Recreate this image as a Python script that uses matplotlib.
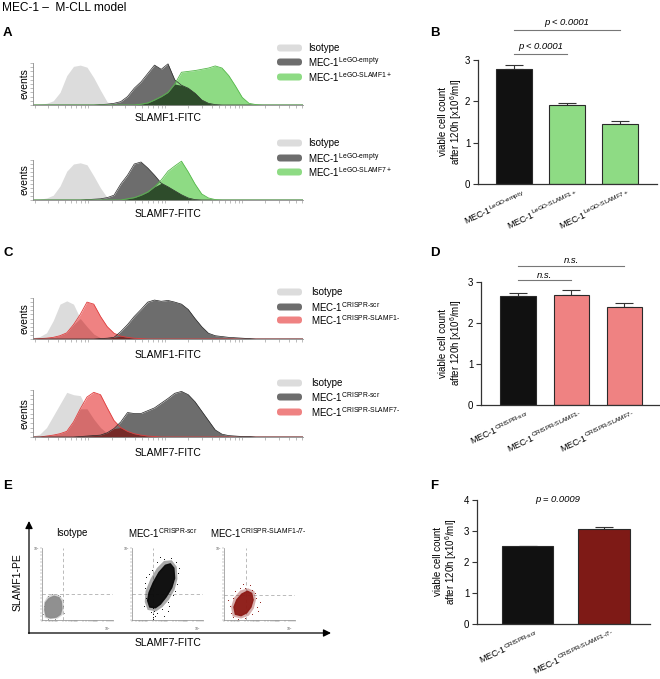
import numpy as np
import matplotlib
matplotlib.use('Agg')
import matplotlib.pyplot as plt
from matplotlib.patches import FancyBboxPatch, Polygon
from matplotlib.transforms import ScaledTranslation

plt.rcParams['font.family'] = ['Liberation Sans', 'DejaVu Sans']
plt.rcParams['mathtext.fontset'] = 'custom'
plt.rcParams['mathtext.rm'] = 'Liberation Sans'
plt.rcParams['mathtext.it'] = 'Liberation Sans:italic'
plt.rcParams['mathtext.bf'] = 'Liberation Sans:bold'

# ---------------- data ----------------
# histogram bins (fluorescence axis, arbitrary units 0..100)
hist_x = [0, 2.5, 5, 7.5, 10, 12.5, 15, 17.5, 20, 22.5, 25, 27.5, 30, 32.5, 35, 37.5, 40,
          42.5, 45, 47.5, 50, 52.5, 55, 57.5, 60, 62.5, 65, 67.5, 70, 72.5, 75, 77.5, 80,
          82.5, 85, 87.5, 90, 92.5, 95, 97.5, 100]

# A top: SLAMF1-FITC
a1_iso = [0, .02, .04, .10, .30, .70, .92, .95, .90, .65, .35, .07, .01, 0, 0, 0, 0, 0, 0, 0, 0,
          0, 0, 0, 0, 0, 0, 0, 0, 0, 0, 0, 0, 0, 0, 0, 0, 0, 0, 0, 0]
a1_empty = [0, 0, 0, 0, 0, 0, 0, 0, 0, 0, .01, .02, .04, .08, .20, .40, .55, .75, .95, .85, .98,
            .60, .47, .40, .28, .12, .04, .01, 0, 0, 0, 0, 0, 0, 0, 0, 0, 0, 0, 0, 0]
a1_slamf = [0, 0, 0, 0, 0, 0, 0, 0, 0, 0, 0, 0, 0, 0, 0, 0, .02, .05, .12, .20, .30,
            .50, .78, .80, .82, .85, .88, .93, .88, .70, .45, .18, .04, .01, 0, 0, 0, 0, 0, 0, 0]
# A bottom: SLAMF7-FITC
a2_iso = [0, .02, .05, .12, .35, .72, .90, .93, .88, .60, .30, .06, .01, 0, 0, 0, 0, 0, 0, 0, 0,
          0, 0, 0, 0, 0, 0, 0, 0, 0, 0, 0, 0, 0, 0, 0, 0, 0, 0, 0, 0]
a2_empty = [0, 0, 0, 0, 0, 0, 0, 0, .01, .02, .03, .06, .12, .40, .62, .90, .95, .80, .62, .42, .33,
            .23, .13, .05, .01, 0, 0, 0, 0, 0, 0, 0, 0, 0, 0, 0, 0, 0, 0, 0, 0]
a2_slamf = [0, 0, 0, 0, 0, 0, 0, 0, 0, 0, 0, 0, 0, 0, .03, .06, .12, .20, .33, .50, .72,
            .85, .97, .70, .40, .15, .05, .01, 0, 0, 0, 0, 0, 0, 0, 0, 0, 0, 0, 0, 0]
# C top: SLAMF1-FITC
c1_iso = [.03, .06, .15, .45, .85, .93, .85, .50, .30, .12, .03, .01, 0, 0, 0, 0, 0, 0, 0, 0, 0,
          0, 0, 0, 0, 0, 0, 0, 0, 0, 0, 0, 0, 0, 0, 0, 0, 0, 0, 0, 0]
c1_ko = [0, .01, .02, .04, .08, .15, .35, .60, .90, .85, .55, .30, .14, .07, .04, .02, .01, 0, 0, 0, 0,
         0, 0, 0, 0, 0, 0, 0, 0, 0, 0, 0, 0, 0, 0, 0, 0, 0, 0, 0, 0]
c1_scr = [0, 0, 0, 0, 0, 0, 0, 0, 0, 0, .01, .02, .04, .18, .35, .55, .72, .90, .95, .92, .94,
          .90, .85, .72, .50, .30, .14, .08, .06, .04, .03, .02, .01, 0, 0, 0, 0, 0, 0, 0, 0]
# C bottom: SLAMF7-FITC
c2_iso = [.02, .06, .20, .45, .70, .95, .90, .88, .60, .38, .20, .08, .03, .01, 0, 0, 0, 0, 0, 0, 0,
          0, 0, 0, 0, 0, 0, 0, 0, 0, 0, 0, 0, 0, 0, 0, 0, 0, 0, 0, 0]
c2_ko = [0, 0, .02, .04, .07, .12, .32, .60, .85, .95, .90, .62, .35, .20, .12, .07, .04, .02, .01, 0, 0,
         0, 0, 0, 0, 0, 0, 0, 0, 0, 0, 0, 0, 0, 0, 0, 0, 0, 0, 0, 0]
c2_scr = [0, 0, 0, 0, 0, 0, 0, .01, .02, .03, .04, .09, .18, .32, .52, .50, .50, .56, .62, .72, .82,
          .93, .97, .90, .75, .55, .35, .15, .06, .03, .02, .01, .01, 0, 0, 0, 0, 0, 0, 0, 0]

# bar panels
b_labels = ['MEC-1$^{\\mathregular{LeGO‐empty}}$', 'MEC-1$^{\\mathregular{LeGO‐SLAMF1+}}$',
            'MEC-1$^{\\mathregular{LeGO‐SLAMF7+}}$']
b_values = [2.78, 1.90, 1.45]
b_errors = [0.09, 0.07, 0.08]
d_labels = ['MEC-1$^{\\mathregular{CRISPR‐scr}}$', 'MEC-1$^{\\mathregular{CRISPR‐SLAMF1‐}}$',
            'MEC-1$^{\\mathregular{CRISPR‐SLAMF7‐}}$']
d_values = [2.65, 2.69, 2.38]
d_errors = [0.09, 0.12, 0.10]
f_labels = ['MEC-1$^{\\mathregular{CRISPR‐scr}}$', 'MEC-1$^{\\mathregular{CRISPR‐SLAMF1‐/7‐}}$']
f_values = [2.52, 3.06]
f_errors = [0.01, 0.07]

# dot plots (E): dense-core outlines, fuzzy halo outlines and sparse events, axis units 0..100
e_titles = ['Isotype', 'MEC-1$^{\\mathregular{CRISPR‐scr}}$', 'MEC-1$^{\\mathregular{CRISPR‐SLAMF1‐/7‐}}$']
e_core = [
    [(6, 5), (12, 3), (20, 4), (26, 8), (28, 16), (27, 26), (24, 31), (17, 33), (10, 30), (5, 24), (4, 14)],
    [(25, 18), (33, 17), (40, 22), (48, 32), (56, 45), (60, 58), (59, 72), (54, 78), (47, 76),
     (38, 66), (30, 52), (24, 38), (22, 27)],
    [(16, 8), (24, 6), (32, 10), (38, 18), (41, 28), (39, 37), (33, 40), (25, 36), (18, 28), (14, 18)],
]
e_halo = [
    [(4, 3), (12, 1), (22, 2), (29, 7), (31, 17), (30, 28), (25, 34), (16, 36), (8, 33), (3, 25), (2, 12)],
    [(22, 14), (34, 12), (43, 18), (52, 28), (60, 42), (64, 57), (63, 74), (56, 83), (45, 82),
     (35, 72), (26, 57), (19, 40), (18, 25)],
    [(12, 5), (24, 2), (35, 6), (42, 16), (45, 28), (43, 40), (34, 44), (23, 41), (14, 31), (10, 18)],
]
e_sparse = [
    [(8, 34), (14, 36), (22, 35), (30, 20), (31, 10), (3, 20), (2, 8), (29, 28), (18, 2), (9, 1), (26, 33)],
    [(18, 45), (20, 60), (28, 70), (35, 80), (45, 85), (62, 80), (65, 65), (63, 50), (58, 35), (50, 25),
     (42, 15), (35, 10), (30, 8), (30, 4), (31, 13), (29, 2), (45, 5), (50, 12), (20, 30), (17, 20),
     (40, 88), (55, 86), (66, 72), (30, 16), (32, 6), (27, 11), (52, 20), (60, 40), (19, 52), (24, 64)],
    [(10, 10), (12, 30), (15, 40), (22, 45), (30, 44), (40, 42), (45, 30), (46, 18), (40, 8), (30, 3),
     (20, 2), (8, 20), (50, 25), (36, 48), (27, 50), (44, 38), (12, 4), (48, 12), (6, 28)],
]
e_colors = ['#8c8c8c', '#0a0a0a', '#8e1b16']
e_gates = [(30, 36), (30, 36), (31, 35)]

# ---------------- figure ----------------
W, H = 660, 679
fig = plt.figure(figsize=(W / 100, H / 100), dpi=100)


def rect(l, t, r, b):
    return [l / W, 1 - b / H, (r - l) / W, (b - t) / H]


ov = fig.add_axes([0, 0, 1, 1], zorder=10)
ov.set_xlim(0, W)
ov.set_ylim(H, 0)
ov.axis('off')
ov.patch.set_alpha(0)

ov.text(2, 8, 'MEC-1 –  M-CLL model', fontsize=8.6, va='center', ha='left')
for letter, (lx, ly) in {'A': (3, 33), 'B': (430, 33), 'C': (3, 253), 'D': (430, 253),
                         'E': (3, 486), 'F': (430, 486)}.items():
    ov.text(lx, ly, letter, fontsize=9.5, fontweight='bold', va='center', ha='left')

C_ISO = '#dcdcdc'
C_GRAY = '#6d6d6d'
C_GREEN = '#8edb84'
C_DKGREEN = '#2e4c2b'
C_PINK = '#ef8282'
C_PINK2 = '#d46c6c'
C_DKRED = '#762a28'

decade = 28.5
xticks_hist = [-8 + decade * (d + np.log10(k)) for d in range(-1, 4) for k in range(1, 10)]
xticks_hist = [t for t in xticks_hist if 0 <= t <= 100]


def hist_axes(t, b):
    ax = fig.add_axes(rect(33, t, 303, b))
    ax.set_xlim(0, 100)
    ax.set_ylim(0, 1.0)
    ax.patch.set_alpha(0)
    for s in ['top', 'right']:
        ax.spines[s].set_visible(False)
    for s in ['left', 'bottom']:
        ax.spines[s].set_color('#8a8a8a')
        ax.spines[s].set_linewidth(0.6)
    ax.set_xticks(xticks_hist)
    ax.set_yticks(np.linspace(0, 1, 11))
    ax.tick_params(length=2, width=0.4, color='#8a8a8a', labelbottom=False, labelleft=False, pad=0)
    return ax


def green_hist(ax, iso, empty, slamf):
    x = np.array(hist_x)
    iso, empty, slamf = map(np.array, (iso, empty, slamf))
    ax.fill_between(x, 0, iso, color=C_ISO, lw=0)
    ax.fill_between(x, 0, empty, color=C_GRAY, lw=0)
    ax.plot(x, empty, color='#2a2a2a', lw=0.5)
    ax.fill_between(x, 0, slamf, color=C_GREEN, lw=0)
    ax.plot(x, slamf, color='#55b84a', lw=0.6)
    ax.fill_between(x, 0, np.minimum(empty, slamf), color=C_DKGREEN, lw=0)


def red_hist(ax, iso, scr, ko):
    x = np.array(hist_x)
    iso, scr, ko = map(np.array, (iso, scr, ko))
    ax.fill_between(x, 0, iso, color=C_ISO, lw=0)
    ax.fill_between(x, 0, ko, color=C_PINK, lw=0)
    ax.fill_between(x, 0, np.minimum(iso, ko), color=C_PINK2, lw=0)
    ax.plot(x, ko, color='#e03c3c', lw=0.6)
    ax.fill_between(x, 0, scr, color=C_GRAY, lw=0)
    ax.plot(x, scr, color='#222222', lw=0.5)
    ax.fill_between(x, 0, np.minimum(scr, ko), color=C_DKRED, lw=0)


def legend(rows_y, labels, colors, tx):
    for y, lab, col in zip(rows_y, labels, colors):
        ov.add_patch(FancyBboxPatch((277, y - 3.5), 25, 7, boxstyle='round,pad=0,rounding_size=3.3',
                                    fc=col, ec='none'))
        ov.text(tx, y, lab, fontsize=7, va='center', ha='left')


hist_specs = [
    (63, 105, 'SLAMF1-FITC', 118, 'g', (a1_iso, a1_empty, a1_slamf), (48, 62, 77),
     ['Isotype', 'MEC-1$^{\\mathregular{LeGO‐empty}}$', 'MEC-1$^{\\mathregular{LeGO‐SLAMF1+}}$'], 308),
    (160, 200, 'SLAMF7-FITC', 214, 'g', (a2_iso, a2_empty, a2_slamf), (143, 158, 172),
     ['Isotype', 'MEC-1$^{\\mathregular{LeGO‐empty}}$', 'MEC-1$^{\\mathregular{LeGO‐SLAMF7+}}$'], 308),
    (298, 339, 'SLAMF1-FITC', 355, 'r', (c1_iso, c1_scr, c1_ko), (292, 307, 320),
     ['Isotype', 'MEC-1$^{\\mathregular{CRISPR‐scr}}$', 'MEC-1$^{\\mathregular{CRISPR‐SLAMF1‐}}$'], 311),
    (390, 437, 'SLAMF7-FITC', 453, 'r', (c2_iso, c2_scr, c2_ko), (383, 397, 412),
     ['Isotype', 'MEC-1$^{\\mathregular{CRISPR‐scr}}$', 'MEC-1$^{\\mathregular{CRISPR‐SLAMF7‐}}$'], 311),
]
for t, b, xl, xly, kind, curves, rows, labs, tx in hist_specs:
    ax = hist_axes(t, b)
    if kind == 'g':
        green_hist(ax, *curves)
        legend(rows, labs, [C_ISO, C_GRAY, C_GREEN], tx)
    else:
        red_hist(ax, *curves)
        legend(rows, labs, [C_ISO, C_GRAY, C_PINK], tx)
    ov.text(168, xly, xl, fontsize=7.5, ha='center', va='center')
    ov.text(25, (t + b) / 2, 'events', fontsize=7.5, rotation=90, ha='center', va='center')


# ---------------- bar panels ----------------
def bar_panel(box, vals, errs, colors, labels, ymax, xlim, ylab_xy):
    ax = fig.add_axes(rect(*box))
    ax.patch.set_alpha(0)
    x = np.arange(len(vals))
    ax.bar(x, vals, width=0.67, color=colors, edgecolor='#2a2a2a', linewidth=0.8, zorder=2)
    ax.errorbar(x, vals, yerr=[np.zeros(len(vals)), errs], fmt='none', ecolor='#333333',
                elinewidth=0.8, capsize=6.5, capthick=0.8, zorder=1)
    ax.set_xlim(*xlim)
    ax.set_ylim(0, ymax)
    ax.set_yticks(range(0, ymax + 1))
    for s in ['top', 'right']:
        ax.spines[s].set_visible(False)
    for s in ['left', 'bottom']:
        ax.spines[s].set_color('#333333')
        ax.spines[s].set_linewidth(0.9)
    ax.tick_params(axis='y', length=3.5, width=0.8, labelsize=7, pad=2, color='#333333')
    ax.tick_params(axis='x', length=0, pad=3)
    ax.set_xticks(x)
    ax.set_xticklabels(labels, rotation=25, ha='right', va='top', rotation_mode='anchor', fontsize=6.5)
    for lbl in ax.get_xticklabels():
        lbl.set_transform(lbl.get_transform() + ScaledTranslation(0.08, 0, fig.dpi_scale_trans))
    ov.text(ylab_xy[0], ylab_xy[1], 'viable cell count\nafter 120h [x10$^{6}$/ml]', fontsize=7,
            rotation=90, ha='center', va='center', linespacing=1.1)
    return ax


axB = bar_panel((478, 60, 657, 184), b_values, b_errors, ['#111111', C_GREEN, C_GREEN], b_labels, 3,
                (-0.68, 2.70), (451, 122))
axD = bar_panel((481, 282, 660, 405), d_values, d_errors, ['#111111', C_PINK, C_PINK], d_labels, 3,
                (-0.70, 2.67), (451, 343))
axF = bar_panel((477, 500, 650, 624), f_values, f_errors, ['#111111', '#7e1a16'], f_labels, 4,
                (-0.66, 1.60), (446, 562))


def bracket(ax, x0, x1, y, text, ty):
    ax.plot([x0, x1], [y, y], color='#777777', lw=0.8, clip_on=False)
    ax.text((x0 + x1) / 2, ty, text, fontsize=6.8, style='italic', ha='center', va='center')


bracket(axB, 0, 1, 3.145, 'p < 0.0001', 3.32)
bracket(axB, 0, 2, 3.73, 'p < 0.0001', 3.9)
bracket(axD, 0, 1, 3.05, 'n.s.', 3.16)
bracket(axD, 0, 2, 3.39, 'n.s.', 3.53)
axF.text(0.39, 4.0, 'p = 0.0009', fontsize=6.8, style='italic', ha='center', va='center')

# ---------------- E: dot plots ----------------
ov.annotate('', xy=(29, 521), xytext=(29, 633.5),
            arrowprops=dict(arrowstyle='-|>', lw=0.9, color='black', mutation_scale=11, shrinkA=0, shrinkB=0))
ov.annotate('', xy=(331, 633), xytext=(28.5, 633),
            arrowprops=dict(arrowstyle='-|>', lw=0.9, color='black', mutation_scale=11, shrinkA=0, shrinkB=0))
ov.text(18, 582, 'SLAMF1-PE', fontsize=7.5, rotation=90, ha='center', va='center')
ov.text(168, 643, 'SLAMF7-FITC', fontsize=7.5, ha='center', va='center')

e_boxes = [(42, 548, 113, 620), (132, 548, 203, 620), (224, 548, 295, 620)]
e_title_x = [72, 163, 258]
for i in range(3):
    ax = fig.add_axes(rect(*e_boxes[i]))
    ax.patch.set_alpha(0)
    ax.set_xlim(0, 100)
    ax.set_ylim(0, 100)
    for s in ['top', 'right']:
        ax.spines[s].set_visible(False)
    for s in ['left', 'bottom']:
        ax.spines[s].set_color('#8a8a8a')
        ax.spines[s].set_linewidth(0.5)
    ax.set_xticks(xticks_hist)
    ax.set_yticks(np.linspace(0, 100, 21))
    ax.tick_params(length=1.2, width=0.3, color='#8a8a8a', labelbottom=False, labelleft=False)
    gx, gy = e_gates[i]
    ax.axvline(gx, color='#b0b0b0', lw=0.6, ls=(0, (4, 3)))
    ax.axhline(gy, color='#b0b0b0', lw=0.6, ls=(0, (4, 3)))
    col = e_colors[i]
    ax.add_patch(Polygon(e_halo[i], closed=True, fc=col, ec='none', alpha=0.35, zorder=3,
                         joinstyle='round'))
    ax.add_patch(Polygon(e_core[i], closed=True, fc=col, ec=col, lw=1.0, alpha=0.95, zorder=3,
                         joinstyle='round'))
    sx, sy = zip(*e_sparse[i])
    ax.scatter(sx, sy, s=0.5, color=col, lw=0, zorder=3)
    ax.text(92, -7, '10$^{5}$', fontsize=2.5, ha='center', va='top', color='#555555')
    ax.text(-3, 98, '10$^{5}$', fontsize=2.5, ha='right', va='center', color='#555555')
    ov.text(e_title_x[i], 533, e_titles[i], fontsize=7, ha='center', va='center')

fig.savefig('out.png', dpi=100)
